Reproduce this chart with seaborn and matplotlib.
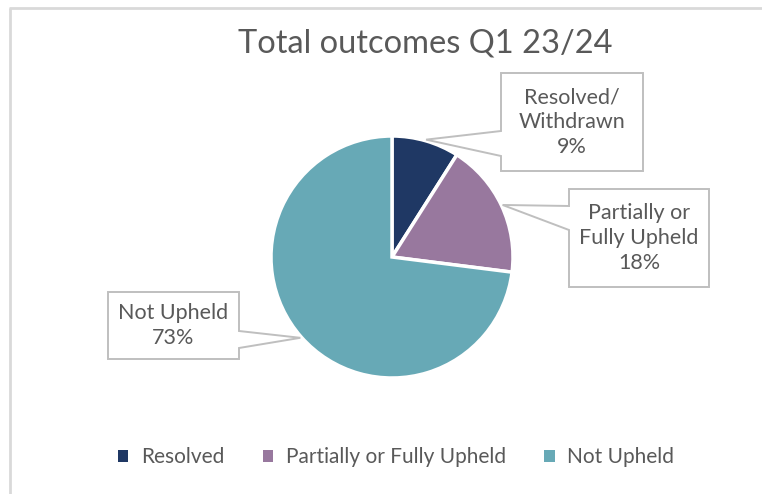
import numpy as np
import seaborn as sns
import matplotlib.pyplot as plt
from matplotlib.patches import Polygon, Patch

# Datos del gráfico
categorias = ["Resolved", "Partially or Fully Upheld", "Not Upheld"]
etiquetas = ["Resolved/\nWithdrawn", "Partially or\nFully Upheld", "Not Upheld"]
porcentajes = [9, 18, 73]
colores = ["#1F3864", "#98789E", "#67A9B6"]

sns.set_theme(style="white")
plt.rcParams["font.family"] = ["Lato", "DejaVu Sans"]
GRIS = "#595959"

W, H = 762, 494
fig = plt.figure(figsize=(W / 100, H / 100), dpi=100)
ax = fig.add_axes([0, 0, 1, 1])

def Y(y):
    # coordenada desde arriba -> desde abajo
    return H - y

cx, cy, R = 392, Y(257), 121
wedges, _ = ax.pie(porcentajes, colors=colores, startangle=90, counterclock=False,
                   center=(cx, cy), radius=R,
                   wedgeprops=dict(edgecolor="white", linewidth=2.5))
ax.set_xlim(0, W)
ax.set_ylim(0, H)
ax.set_aspect("equal")
ax.axis("off")

# marco del gráfico (solo arriba e izquierda visibles)
ax.plot([9, W], [Y(8), Y(8)], color="#D9D9D9", lw=2, solid_capstyle="butt")
ax.plot([10, 10], [Y(8), 0], color="#D9D9D9", lw=2, solid_capstyle="butt")

ax.text(425, Y(44), "Total outcomes Q1 23/24", ha="center", va="center",
        fontsize=23.5, color=GRIS)

# cajas de etiquetas: (x0, y0, x1, y1), lado del pico, rango del pico
cajas = [
    ((501, 73, 643, 171), "left", (131, 156)),
    ((569, 189, 709, 287), "left", (206, 230)),
    ((108, 292, 239, 359), "right", (331, 348)),
]

for w, et, p, (caja, lado, (n0, n1)) in zip(wedges, etiquetas, porcentajes, cajas):
    ang = np.deg2rad((w.theta1 + w.theta2) / 2)
    tx = cx + 1.01 * R * np.cos(ang)
    ty = cy + 1.01 * R * np.sin(ang)
    x0, y0, x1, y1 = caja
    if lado == "left":
        pts = [(x0, y0), (x1, y0), (x1, y1), (x0, y1), (x0, n1), None, (x0, n0)]
    else:
        pts = [(x0, y0), (x1, y0), (x1, n0), None, (x1, n1), (x1, y1), (x0, y1)]
    verts = [(tx, ty) if q is None else (q[0], Y(q[1])) for q in pts]
    ax.add_patch(Polygon(verts, closed=True, facecolor="white",
                         edgecolor="#BFBFBF", lw=1.4, zorder=5))
    ax.text((x0 + x1) / 2, Y((y0 + y1) / 2), f"{et}\n{p}%", ha="center",
            va="center", fontsize=15.5, color=GRIS, linespacing=1.3, zorder=6)

handles = [Patch(facecolor=c, edgecolor="none") for c in colores]
fig.legend(handles, categorias, loc="center", bbox_to_anchor=(0.52, 1 - 457 / H),
           ncol=3, frameon=False, fontsize=15, labelcolor=GRIS,
           handlelength=0.5, handleheight=0.5, handletextpad=0.6,
           columnspacing=1.85)

fig.savefig("out.png", dpi=100)
